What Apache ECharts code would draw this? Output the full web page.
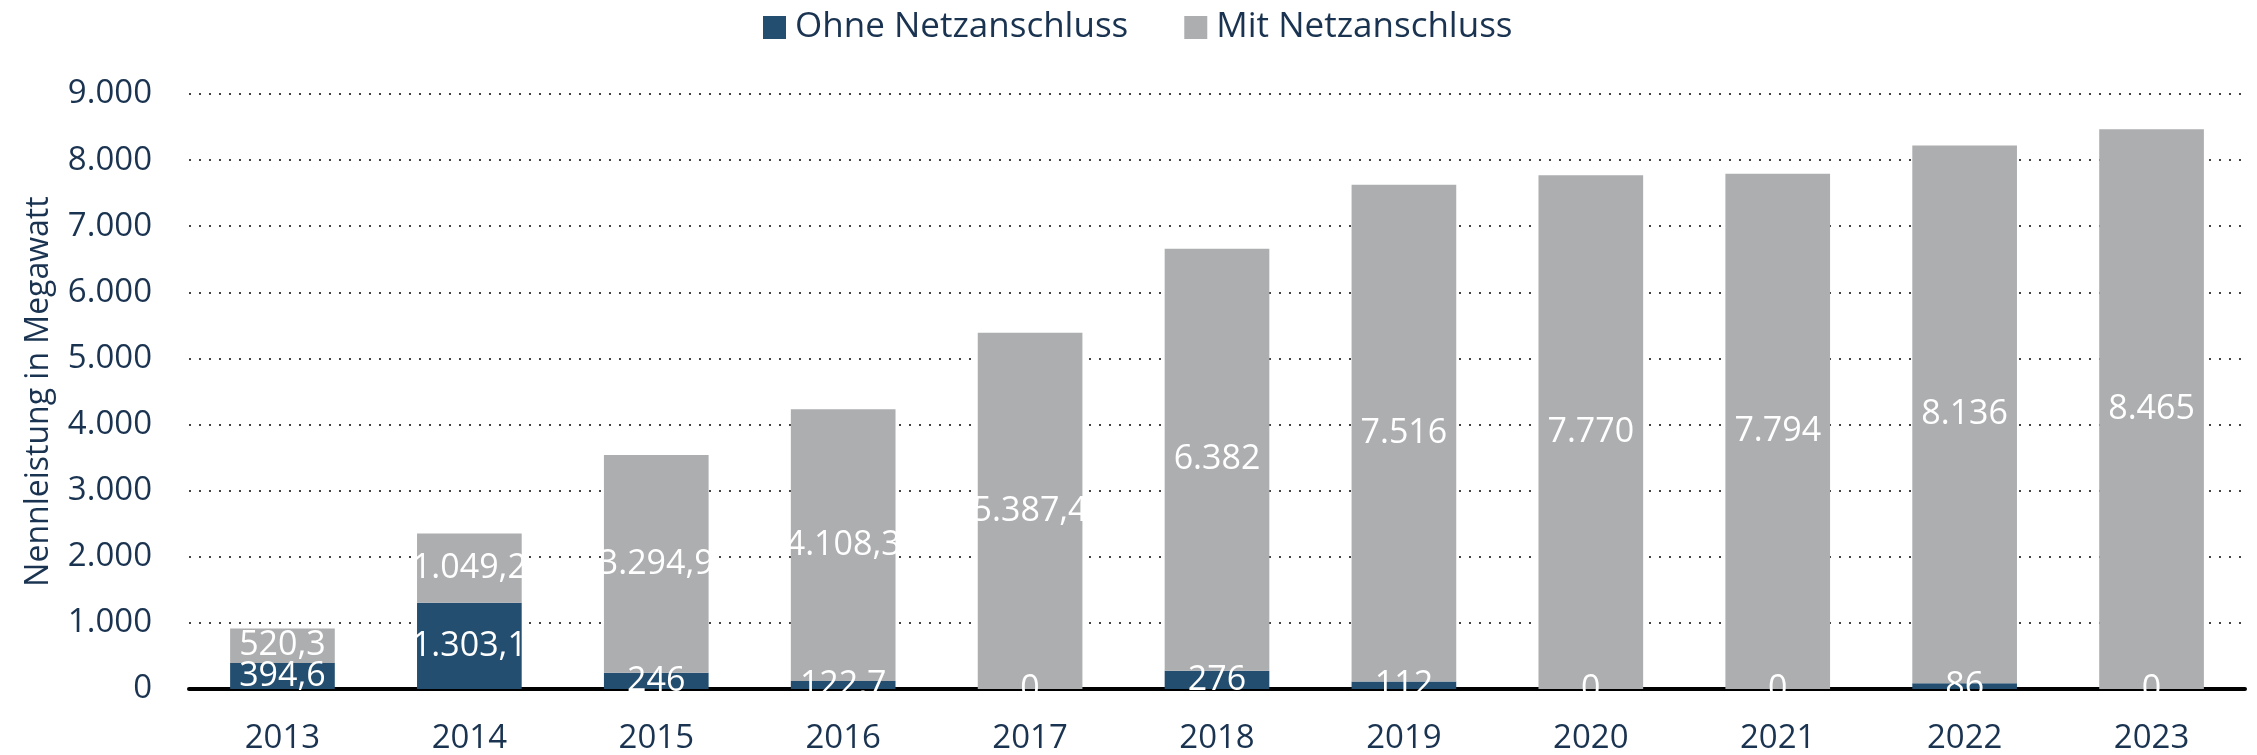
<!DOCTYPE html>
<html>
<head>
<meta charset="utf-8">
<script src="https://cdn.jsdelivr.net/npm/echarts@6/dist/echarts.min.js"></script>
<style>
  html, body { margin: 0; padding: 0; background: #fff; }
  #chart { width: 2257px; height: 755px; }
</style>
</head>
<body>
<div id="chart"></div>
<script>
const years = ["2013", "2014", "2015", "2016", "2017", "2018", "2019", "2020", "2021", "2022", "2023"];
const ohneNetz = [394.6, 1303.1, 246, 122.7, 0, 276, 112, 0, 0, 86, 0];
const mitNetz = [520.3, 1049.2, 3294.9, 4108.3, 5387.4, 6382, 7516, 7770, 7794, 8136, 8465];

const textColor = "#1a3350";
const fontFamily = "'Open Sans', 'Noto Sans', sans-serif";

// deutsches Zahlenformat: 1.303,1
function fmt(v) {
  const parts = String(v).split(".");
  const int = parts[0].replace(/\B(?=(\d{3})+(?!\d))/g, ".");
  return parts[1] ? int + "," + parts[1] : int;
}

const barLabel = {
  show: true,
  position: "inside",
  color: "#fff",
  fontSize: 34,
  fontFamily: fontFamily,
  textShadowColor: "#1a3350",
  textShadowOffsetX: 2,
  textShadowOffsetY: 2,
  textShadowBlur: 0,
  formatter: p => fmt(p.value)
};

const chart = echarts.init(document.getElementById("chart"));
chart.setOption({
  animation: false,
  textStyle: { fontFamily: fontFamily, color: textColor },
  legend: {
    top: 5,
    left: 758,
    icon: "rect",
    itemWidth: 23,
    itemHeight: 23,
    itemGap: 56,
    textStyle: { fontSize: 35, color: textColor, fontFamily: fontFamily, padding: [0, 0, 0, 4] },
    data: ["Ohne Netzanschluss", "Mit Netzanschluss"]
  },
  grid: {
    left: 189,
    right: 12,
    top: 94,
    bottom: 66,
    outerBoundsMode: "none"
  },
  xAxis: {
    type: "category",
    data: years,
    axisTick: { show: false },
    axisLine: { lineStyle: { color: "#000", width: 4 } },
    axisLabel: { fontSize: 33, color: textColor, margin: 33 }
  },
  yAxis: {
    type: "value",
    min: 0,
    max: 9000,
    interval: 1000,
    name: "Nennleistung in Megawatt",
    nameLocation: "middle",
    nameGap: 134,
    nameTextStyle: { fontSize: 32, color: textColor },
    axisLine: { show: false },
    axisTick: { show: false },
    axisLabel: { fontSize: 33, color: textColor, margin: 37, formatter: v => fmt(v) },
    splitLine: { lineStyle: { type: [2, 8], color: "#444", width: 2 } }
  },
  series: [
    {
      name: "Ohne Netzanschluss",
      type: "bar",
      stack: "total",
      barWidth: "56%",
      itemStyle: { color: "#234e70" },
      label: barLabel,
      data: ohneNetz
    },
    {
      name: "Mit Netzanschluss",
      type: "bar",
      stack: "total",
      barWidth: "56%",
      itemStyle: { color: "#adaeb0" },
      label: barLabel,
      data: mitNetz
    }
  ]
});
</script>
</body>
</html>
